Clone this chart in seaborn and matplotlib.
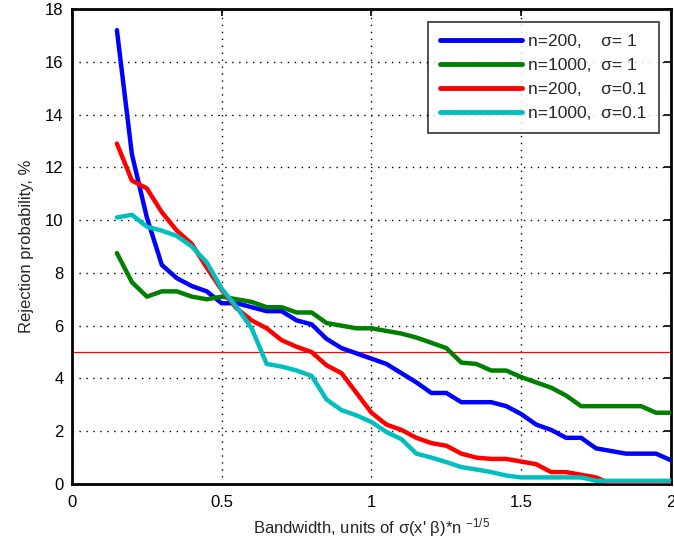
import numpy as np
import pandas as pd
import matplotlib
matplotlib.use("Agg")
import matplotlib.pyplot as plt
import seaborn as sns
from matplotlib.lines import Line2D

bandwidth = [0.15, 0.20, 0.25, 0.30, 0.35, 0.40, 0.45, 0.50, 0.55, 0.60,
             0.65, 0.70, 0.75, 0.80, 0.85, 0.90, 0.95, 1.00, 1.05, 1.10,
             1.15, 1.20, 1.25, 1.30, 1.35, 1.40, 1.45, 1.50, 1.55, 1.60,
             1.65, 1.70, 1.75, 1.80, 1.85, 1.90, 1.95, 2.00]

n200_s1 = [17.2, 12.5, 10.1, 8.3, 7.8, 7.5, 7.3, 6.85, 6.85, 6.7,
           6.55, 6.55, 6.2, 6.05, 5.5, 5.15, 4.95, 4.75, 4.55, 4.2,
           3.85, 3.45, 3.45, 3.1, 3.1, 3.1, 2.95, 2.65, 2.25, 2.05,
           1.75, 1.75, 1.35, 1.25, 1.15, 1.15, 1.15, 0.9]

n1000_s1 = [8.75, 7.65, 7.1, 7.3, 7.3, 7.1, 7.0, 7.1, 7.0, 6.9,
            6.7, 6.7, 6.5, 6.5, 6.1, 6.0, 5.9, 5.9, 5.8, 5.7,
            5.55, 5.35, 5.15, 4.6, 4.55, 4.3, 4.3, 4.05, 3.85, 3.65,
            3.35, 2.95, 2.95, 2.95, 2.95, 2.95, 2.7, 2.7]

n200_s01 = [12.9, 11.5, 11.2, 10.3, 9.6, 9.1, 8.2, 7.35, 6.65, 6.2,
            5.9, 5.45, 5.2, 5.0, 4.5, 4.2, 3.45, 2.7, 2.25, 2.05,
            1.75, 1.55, 1.45, 1.15, 1.0, 0.95, 0.95, 0.85, 0.75, 0.45,
            0.45, 0.35, 0.25, 0.0, 0.0, 0.0, 0.0, 0.0]

n1000_s01 = [10.1, 10.2, 9.75, 9.6, 9.4, 9.0, 8.4, 7.4, 6.7, 5.9,
             4.55, 4.45, 4.3, 4.1, 3.2, 2.8, 2.6, 2.35, 1.97, 1.7,
             1.15, 1.0, 0.83, 0.64, 0.55, 0.45, 0.32, 0.25, 0.25, 0.25,
             0.25, 0.25, 0.12, 0.12, 0.12, 0.12, 0.12, 0.12]

labels = ["n=200,    σ= 1", "n=1000,  σ= 1", "n=200,    σ=0.1", "n=1000,  σ=0.1"]
series = [n200_s1, n1000_s1, n200_s01, n1000_s01]
colors = ["#0000ff", "#008000", "#ff0000", "#00bfbf"]

rows = []
for lab, vals in zip(labels, series):
    for x, y in zip(bandwidth, vals):
        rows.append({"bw": x, "p": y, "series": lab})
df = pd.DataFrame(rows)

sns.set_style("white")
plt.rcParams["font.family"] = ["Liberation Sans", "DejaVu Sans"]
plt.rcParams["mathtext.fontset"] = "custom"
plt.rcParams["mathtext.rm"] = "Liberation Sans"
plt.rcParams["mathtext.it"] = "Liberation Sans"

fig = plt.figure(figsize=(6.74, 5.49), dpi=100)
ax = fig.add_axes([0.1068, 0.1184, 0.8887, 0.8652])

ax.axhline(5, color="#ff0000", lw=0.9, zorder=1)

sns.lineplot(data=df, x="bw", y="p", hue="series", hue_order=labels,
             palette=dict(zip(labels, colors)), linewidth=3.2, ax=ax,
             legend=False, zorder=3)

ax.set_xlim(0, 2)
ax.set_ylim(0, 18)
ax.set_xticks([0, 0.5, 1, 1.5, 2])
ax.set_xticklabels(["0", "0.5", "1", "1.5", "2"])
ax.set_yticks(range(0, 19, 2))
ax.tick_params(direction="in", length=5, width=1.2, top=True, right=True,
               labelsize=12, colors="black")
ax.tick_params(axis="x", pad=8)
ax.tick_params(axis="y", pad=6)
ax.grid(True, color="black", linestyle=(0, (1, 4)), linewidth=1.0)
for s in ax.spines.values():
    s.set_linewidth(2.0)
    s.set_color("black")
    s.set_visible(True)

ax.set_xlabel("Bandwidth, units of σ(x' β)*n $^{\\mathregular{-1/5}}$", fontsize=12, labelpad=4)
ax.set_ylabel("Rejection probability, %", fontsize=12, labelpad=8)

handles = [Line2D([0], [0], color=c, lw=3.5) for c in colors]
leg = ax.legend(handles, labels, loc="upper right", bbox_to_anchor=(0.98, 0.973),
                fontsize=12.5, handlelength=4.7, handletextpad=0.4,
                labelspacing=0.5, borderpad=0.7, borderaxespad=0.0,
                frameon=True, fancybox=False)
leg.get_frame().set_edgecolor("black")
leg.get_frame().set_linewidth(1.2)
leg.set_zorder(5)

fig.savefig("out.png", dpi=100)
